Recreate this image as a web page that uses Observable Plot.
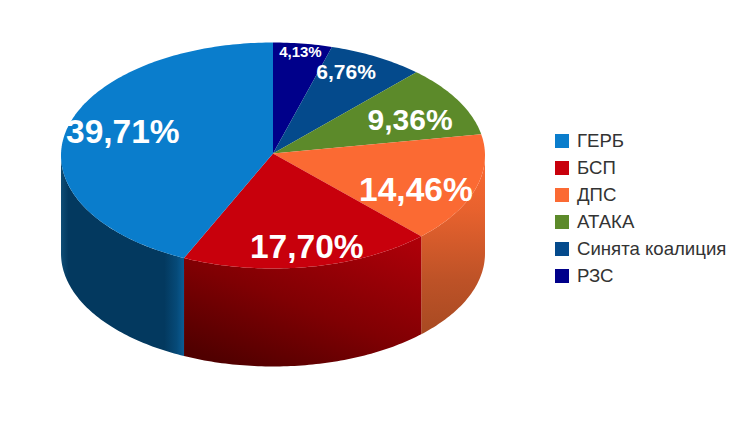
<!DOCTYPE html>
<html>
<head>
<meta charset="utf-8">
<script src="https://cdn.jsdelivr.net/npm/d3@7"></script>
<script src="https://cdn.jsdelivr.net/npm/@observablehq/plot@0.6"></script>
<style>
  html,body{margin:0;padding:0;background:#fff;}
  #wrap{position:relative;width:752px;height:423px;overflow:hidden;font-family:"Liberation Sans",Arial,sans-serif;}
  #wrap svg{position:absolute;left:0;top:0;}
  #legend{position:absolute;left:555px;top:127px;}
  .row{display:flex;align-items:center;height:27px;font-size:18.6px;color:#333;white-space:nowrap;}
  .sw{width:14px;height:14px;margin-right:8px;flex:none;}
</style>
</head>
<body>
<div id="wrap"></div>
<script>
// Data, in clockwise drawing order starting at 12 o'clock
const parties = ["РЗС", "Синята коалиция", "АТАКА", "ДПС", "БСП", "ГЕРБ"];
const shares  = [4.13, 6.76, 9.36, 14.46, 17.70, 39.71];
const shareLabels = ["4,13%", "6,76%", "9,36%", "14,46%", "17,70%", "39,71%"];
const colors  = ["#00008a", "#044a8c", "#5c8a2a", "#fb6a33", "#c8000c", "#0a7dcc"];
const legendOrder = ["ГЕРБ", "БСП", "ДПС", "АТАКА", "Синята коалиция", "РЗС"];

// Label placement relative to each slice's middle
const labelRadius = [0.921, 0.811, 0.717, 0.742, 0.83, 0.737];
const labelTurn   = [0, -4.2, 3.6, 7.3, -1.3, 3.6];
const labelSize   = [15, 21, 30, 33.5, 33.5, 33.5];

const depth = 0.867;    // pie thickness, in units of the vertical radius
const apexV = 0.018;    // where the slices meet, slightly above the ellipse centre

const total = d3.sum(shares);
let acc = 0;
const slices = shares.map((v, i) => {
  const start = acc / total * 360; acc += v;
  return {party: parties[i], start, end: acc / total * 360, i};
});
const rad = d => d * Math.PI / 180;
const rim = (a, b, off = 0) => {
  const n = Math.max(2, Math.ceil(Math.abs(b - a)));
  return d3.range(n + 1).map(k => {
    const t = rad(a + (b - a) * k / n);
    return {u: Math.sin(t), v: Math.cos(t) - off};
  });
};
const topShape = s => {
  const apex = {u: 0, v: apexV};
  return [apex, ...rim(s.start, s.end), apex];
};
const sideShape = s => {
  const a = Math.max(s.start, 90), b = Math.min(s.end, 270);
  if (b <= a) return null;
  const up = rim(a, b), down = rim(b, a, depth);
  return [...up, ...down, up[0]];
};

// gradient definitions for the shaded side walls
const sideGradients = [
  {id: "side3", x1: 0, y1: 0, x2: 0, y2: 1, stops: [[0, "#fb6a33"], [0.3, "#e8622e"], [0.7, "#bd5227"], [1, "#a84a22"]]},
  {id: "side4", x1: 0.9, y1: 0, x2: 0.2, y2: 1, stops: [[0, "#ad0009"], [0.55, "#800003"], [1, "#500000"]]},
  {id: "side5", x1: 0, y1: 0, x2: 1, y2: 0, stops: [[0, "#0f4d75"], [0.06, "#03395f"], [0.84, "#03395f"], [0.94, "#064a78"], [1, "#0b5c94"]]}
];
const defsMark = () => {
  const ns = "http://www.w3.org/2000/svg";
  const defs = document.createElementNS(ns, "defs");
  for (const g of sideGradients) {
    const el = document.createElementNS(ns, "linearGradient");
    el.setAttribute("id", g.id);
    for (const k of ["x1", "y1", "x2", "y2"]) el.setAttribute(k, g[k]);
    for (const [o, c] of g.stops) {
      const st = document.createElementNS(ns, "stop");
      st.setAttribute("offset", o); st.setAttribute("stop-color", c);
      el.appendChild(st);
    }
    defs.appendChild(el);
  }
  return defs;
};

const sideMarks = slices.filter(s => sideShape(s)).map(s =>
  Plot.line(sideShape(s), {x: "u", y: "v", fill: `url(#side${s.i})`, stroke: "none", curve: "linear"}));
const topMarks = slices.map(s =>
  Plot.line(topShape(s), {x: "u", y: "v", fill: colors[s.i], stroke: "none", curve: "linear"}));
const labelMarks = slices.map(s => {
  const t = rad((s.start + s.end) / 2 + labelTurn[s.i]), r = labelRadius[s.i];
  return Plot.text([shareLabels[s.i]], {
    x: () => r * Math.sin(t), y: () => r * Math.cos(t), text: d => d,
    fill: "#fff", fontSize: labelSize[s.i], fontWeight: "bold", textAnchor: "middle",
    fontFamily: "Liberation Sans"
  });
});

const chart = Plot.plot({
  width: 752, height: 423,
  marginTop: 0, marginRight: 0, marginBottom: 0, marginLeft: 0,
  x: {domain: [-1, 1], range: [60.5, 484.5], axis: null},
  y: {domain: [1, -1], range: [42, 268], axis: null},
  style: {background: "transparent"},
  marks: [defsMark, ...sideMarks, ...topMarks, ...labelMarks]
});
const wrap = document.getElementById("wrap");
wrap.appendChild(chart);

const legend = document.createElement("div");
legend.id = "legend";
for (const name of legendOrder) {
  const row = document.createElement("div"); row.className = "row";
  const sw = document.createElement("span"); sw.className = "sw";
  sw.style.background = colors[parties.indexOf(name)];
  const tx = document.createElement("span"); tx.textContent = name;
  row.append(sw, tx); legend.appendChild(row);
}
wrap.appendChild(legend);
</script>
</body>
</html>
